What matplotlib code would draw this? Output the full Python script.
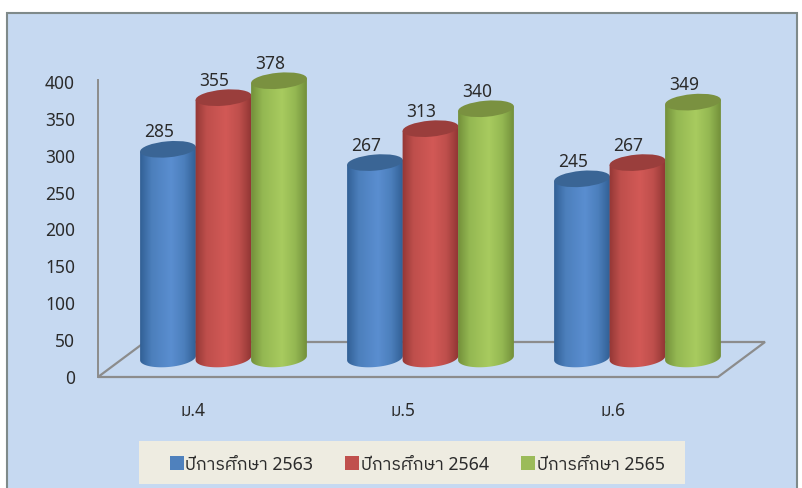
import numpy as np
import matplotlib
matplotlib.use("Agg")
import matplotlib.pyplot as plt
from matplotlib import font_manager as fm
from matplotlib.patches import Rectangle, Ellipse, Polygon
from matplotlib.colors import LinearSegmentedColormap

categories = ["ม.4", "ม.5", "ม.6"]
series_names = ["ปีการศึกษา 2563", "ปีการศึกษา 2564", "ปีการศึกษา 2565"]
values_2563 = [285, 267, 245]
values_2564 = [355, 313, 267]
values_2565 = [378, 340, 349]
y_ticks = [0, 50, 100, 150, 200, 250, 300, 350, 400]

thai = sorted({f.name for f in fm.fontManager.ttflist if any(k in f.name for k in ("Thai", "Garuda", "Loma", "Tahoma", "Waree"))})
plt.rcParams["font.family"] = ["Noto Sans"] + thai[:1] + ["DejaVu Sans"]

TXT = "#2B2B2B"
W, H = 803, 488
fig = plt.figure(figsize=(W / 100, H / 100), dpi=100, facecolor="white")
ax = fig.add_axes([0, 0, 1, 1])
ax.set_xlim(0, W); ax.set_ylim(H, 0); ax.axis("off")

# chart background
ax.add_patch(Rectangle((7, 13), 790, 480, fc="#C6D9F1", ec="#7F8A8A", lw=1.5, zorder=0))

# value scale
y0 = 377.0
per = (377.0 - 82.0) / 400.0
def ypx(v):
    return y0 - v * per

# floor and axis
AX = "#8C8C8C"
ax.add_patch(Polygon([(98, 377), (718, 377), (765, 342), (145, 342)], closed=True,
                     fc="none", ec=AX, lw=1.6, zorder=1))
ax.plot([98, 98], [80, 377], color=AX, lw=1.4, zorder=1)
for t in y_ticks:
    ax.text(75, ypx(t) + 2, str(t), ha="right", va="center", fontsize=12.5, color=TXT)
for c, x in zip(categories, [193, 403, 613]):
    ax.text(x, 411, c, ha="center", va="center", fontsize=12.5, color=TXT)

# edge, mid, highlight, top-cap colours
colors = [("#2F5D92", "#4C7FBC", "#5A8ED0", "#3A6595"),
          ("#8F3533", "#BF4F4C", "#D25956", "#9A3E3C"),
          ("#708C38", "#94B852", "#A8CB5F", "#7A9140")]
group_x = [140, 347, 554]
bar_w = 56
base = 358
tilt = 5.0

def rim(cx, cy, a, h):
    """Point on a slightly tilted ellipse, in pixels."""
    t = np.radians(-tilt)
    px, py = bar_w / 2 * np.cos(a), h / 2 * np.sin(a)
    return (cx + px * np.cos(t) - py * np.sin(t), cy + px * np.sin(t) + py * np.cos(t))

def cylinder(x, v, col, z, label):
    top = ypx(v) - 17.5
    cx = x + bar_w / 2
    cmap = LinearSegmentedColormap.from_list(
        "c", [(0, col[0]), (0.22, col[1]), (0.55, col[2]), (0.78, col[1]), (1, col[0])], N=256)
    grad = np.linspace(0, 1, 256)[None, :]
    im = ax.imshow(grad, extent=(x - 1, x + bar_w + 1, base + 14, top - 6), cmap=cmap, aspect="auto", zorder=z)
    pts = [rim(cx, top, np.pi, 16), rim(cx, top, 0, 16)]
    pts += [rim(cx, base, a, 18) for a in np.linspace(0, np.pi, 40)]
    clip = Polygon(pts, closed=True, transform=ax.transData, fc="none", ec="none")
    ax.add_patch(clip)
    im.set_clip_path(clip)
    ax.add_patch(Ellipse((cx, top), bar_w, 16, angle=-tilt, fc=col[3], ec="none", zorder=z + 0.1))
    ax.text(cx - 9, top - 17, str(label), ha="center", va="center", fontsize=12.5, color=TXT, zorder=20)

all_vals = [values_2563, values_2564, values_2565]
for g, gx in enumerate(group_x):
    for s in range(3):
        cylinder(gx + s * (bar_w - 0.5), all_vals[s][g], colors[s], 5 + s, all_vals[s][g])

# legend
ax.add_patch(Rectangle((139, 441), 546, 43, fc="#EEECE1", ec="none", zorder=2))
lx = [170, 345, 521]
tx = [185, 361, 537]
for n, a, b, col in zip(series_names, lx, tx, ["#4F81BD", "#C0504D", "#9BBB59"]):
    ax.add_patch(Rectangle((a, 456), 14, 14, fc=col, ec="none", zorder=3))
    ax.text(b, 465, n, ha="left", va="center", fontsize=12.8, color=TXT, zorder=3)

ax.set_xlim(0, W); ax.set_ylim(H, 0)
fig.savefig("out.png", dpi=100)
